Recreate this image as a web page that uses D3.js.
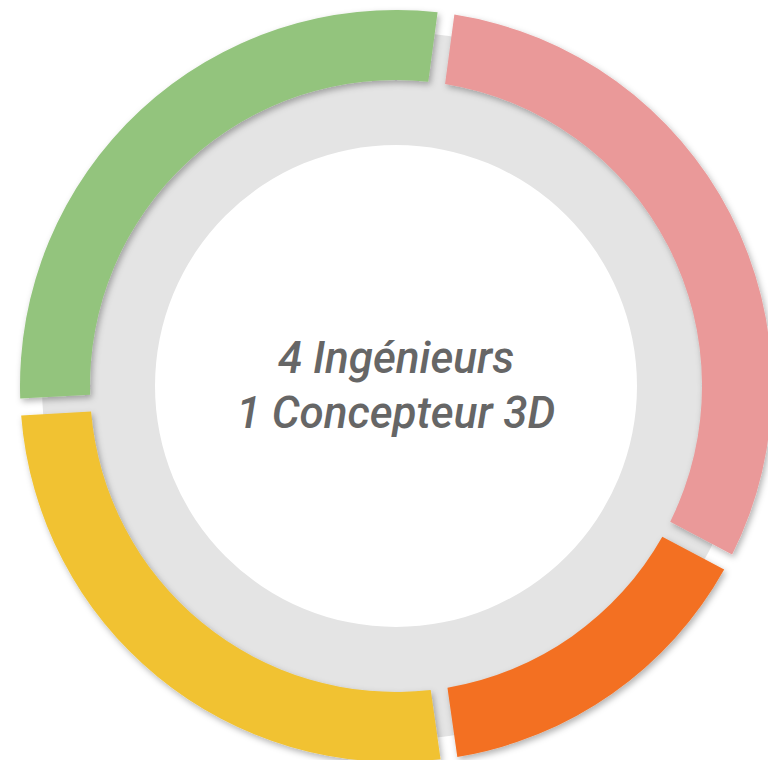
<!DOCTYPE html>
<html>
<head>
<meta charset="utf-8">
<script src="https://cdn.jsdelivr.net/npm/d3@7"></script>
<style>
  html, body { margin: 0; padding: 0; background: #fff; }
  svg { display: block; }
</style>
</head>
<body>
<div id="chart"></div>
<script>
  // segment data, clockwise starting from the left side
  var categories = ["A", "B", "C", "D"];
  var values = [28.1, 30.8, 14.7, 26.4];
  var colors = ["#93c47d", "#ea9999", "#f37022", "#f1c232"];

  // text in the middle
  var centerLines = ["4 Ingénieurs", "1 Concepteur 3D"];

  var width = 768, height = 760;
  var cx = 396, cy = 386;

  var svg = d3.select("#chart").append("svg")
    .attr("width", width)
    .attr("height", height);

  // drop shadow for the coloured pieces
  var defs = svg.append("defs");
  var filter = defs.append("filter")
    .attr("id", "shadow")
    .attr("x", "-20%").attr("y", "-20%")
    .attr("width", "140%").attr("height", "140%");
  filter.append("feDropShadow")
    .attr("dx", 2).attr("dy", 3)
    .attr("stdDeviation", 3)
    .attr("flood-color", "#000")
    .attr("flood-opacity", 0.3);

  var g = svg.append("g")
    .attr("transform", "translate(" + cx + "," + cy + ")");

  // grey background ring
  var track = d3.arc()
    .innerRadius(241)
    .outerRadius(354)
    .startAngle(0)
    .endAngle(2 * Math.PI);

  g.append("path")
    .attr("d", track())
    .attr("fill", "#e4e4e4");

  // pie layout
  var start = -93.2 * Math.PI / 180;
  var pie = d3.pie()
    .sort(null)
    .value(d => d)
    .startAngle(start)
    .endAngle(start + 2 * Math.PI)
    .padAngle(0.045);

  var arc = d3.arc()
    .innerRadius(306)
    .outerRadius(376)
    .padRadius(376);

  g.selectAll(".slice")
    .data(pie(values))
    .join("path")
    .attr("class", "slice")
    .attr("d", arc)
    .attr("fill", (d, i) => colors[i])
    .attr("filter", "url(#shadow)");

  // centre label
  var label = g.append("text")
    .attr("text-anchor", "middle")
    .attr("font-family", "Roboto, sans-serif")
    .attr("font-style", "italic")
    .attr("font-weight", 500)
    .attr("font-size", 44)
    .attr("fill", "#666666");

  label.selectAll("tspan")
    .data(centerLines)
    .join("tspan")
    .attr("x", 0)
    .attr("y", (d, i) => -13 + i * 55)
    .text(d => d);
</script>
</body>
</html>
